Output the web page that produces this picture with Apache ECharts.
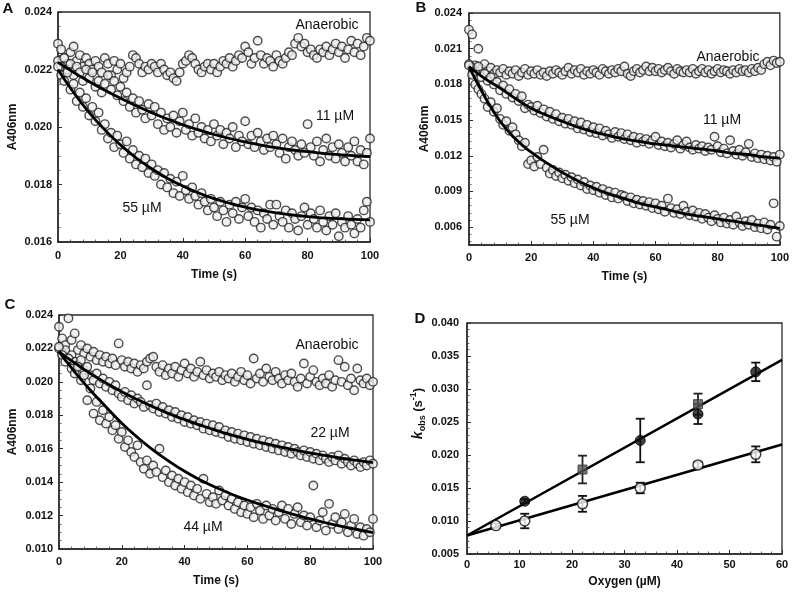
<!DOCTYPE html>
<html><head><meta charset="utf-8">
<script src="https://cdn.jsdelivr.net/npm/echarts@6/dist/echarts.min.js"></script>
<style>html,body{margin:0;padding:0;background:#fff}#c{width:792px;height:595px}</style>
</head><body><div id="c"></div>
<script>
// ---------- DATA ----------
const timeS = [0,1,2,3,4,5,6,7,8,9,10,11,12,13,14,15,16,17,18,19,20,21,22,23,24,25,26,27,28,29,30,31,32,33,34,35,36,37,38,39,40,41,42,43,44,45,46,47,48,49,50,51,52,53,54,55,56,57,58,59,60,61,62,63,64,65,66,67,68,69,70,71,72,73,74,75,76,77,78,79,80,81,82,83,84,85,86,87,88,89,90,91,92,93,94,95,96,97,98,99,100];
const fitTimeS = [0,5,10,15,20,25,30,35,40,45,50,55,60,65,70,75,80,85,90,95,100];

// Panel A
const aAnaerobic = [0.0229,0.0227,0.0224,0.0222,0.0226,0.0228,0.0223,0.0225,0.0221,0.0224,
0.0222,0.0220,0.0223,0.0221,0.0219,0.0224,0.0222,0.0218,0.0223,0.0220,
0.0222,0.0217,0.0219,0.0221,0.0225,0.0224,0.0222,0.0219,0.0221,0.0220,
0.0222,0.0221,0.0219,0.0222,0.0220,0.0218,0.0219,0.0217,0.0216,0.0219,
0.0222,0.0223,0.0225,0.0224,0.0222,0.0220,0.0219,0.0221,0.0222,0.0220,
0.0222,0.0219,0.0221,0.0223,0.0222,0.0224,0.0221,0.0223,0.0225,0.0224,
0.0228,0.0226,0.0222,0.0224,0.0230,0.0225,0.0222,0.0224,0.0223,0.0221,
0.0225,0.0223,0.0222,0.0224,0.0226,0.0225,0.0229,0.0231,0.0228,0.0229,
0.0226,0.0227,0.0225,0.0224,0.0227,0.0226,0.0228,0.0225,0.0227,0.0229,
0.0226,0.0228,0.0224,0.0227,0.0230,0.0226,0.0229,0.0225,0.0228,0.0231,0.0230];
const a11uM = [0.0223,0.0221,0.0224,0.0220,0.0222,0.0218,0.0221,0.0219,0.0216,0.0220,
0.0217,0.0219,0.0214,0.0216,0.0212,0.0215,0.0218,0.0213,0.0216,0.0211,
0.0214,0.0209,0.0212,0.0207,0.0210,0.0205,0.0209,0.0206,0.0203,0.0208,
0.0204,0.0207,0.0201,0.0205,0.0199,0.0203,0.0200,0.0204,0.0198,0.0202,
0.0205,0.0199,0.0201,0.0197,0.0203,0.0198,0.0200,0.0196,0.0199,0.0195,
0.0201,0.0197,0.0199,0.0194,0.0198,0.0196,0.0200,0.0193,0.0197,0.0195,
0.0202,0.0194,0.0197,0.0193,0.0198,0.0195,0.0192,0.0196,0.0193,0.0197,
0.0194,0.0191,0.0196,0.0189,0.0193,0.0195,0.0192,0.0190,0.0194,0.0191,
0.0201,0.0193,0.0190,0.0195,0.0188,0.0192,0.0196,0.0190,0.0193,0.0189,
0.0194,0.0191,0.0188,0.0193,0.0190,0.0195,0.0188,0.0192,0.0187,0.0191,0.0196];
const a55uM = [0.0221,0.0218,0.0216,0.0219,0.0213,0.0215,0.0209,0.0212,0.0207,0.0210,
0.0204,0.0207,0.0202,0.0205,0.0199,0.0201,0.0196,0.0198,0.0193,0.0197,
0.0194,0.0191,0.0195,0.0189,0.0192,0.0187,0.0190,0.0186,0.0189,0.0184,
0.0187,0.0183,0.0185,0.0180,0.0184,0.0179,0.0182,0.0177,0.0181,0.0176,
0.0183,0.0178,0.0175,0.0179,0.0176,0.0173,0.0177,0.0174,0.0171,0.0175,
0.0172,0.0169,0.0174,0.0171,0.0167,0.0173,0.0170,0.0174,0.0168,0.0172,
0.0175,0.0169,0.0172,0.0167,0.0171,0.0165,0.0170,0.0168,0.0173,0.0166,
0.0173,0.0169,0.0167,0.0171,0.0165,0.0170,0.0168,0.0164,0.0169,0.0172,
0.0166,0.0170,0.0168,0.0165,0.0171,0.0167,0.0164,0.0169,0.0166,0.0170,
0.0162,0.0167,0.0165,0.0169,0.0166,0.0163,0.0168,0.0165,0.0171,0.0174,0.0167];
const aFit11 = [0.02225,0.02190,0.02158,0.02128,0.02100,0.02074,0.02050,0.02028,0.02008,0.01990,0.01974,0.01960,0.01948,0.01937,0.01928,0.01920,0.01914,0.01908,0.01904,0.01900,0.01897];
const aFit55 = [0.02200,0.02120,0.02050,0.01990,0.01938,0.01893,0.01855,0.01822,0.01795,0.01771,0.01751,0.01735,0.01721,0.01710,0.01701,0.01694,0.01688,0.01684,0.01681,0.01679,0.01677];

// Panel B
const bAnaerobic = [0.0226,0.0222,0.0196,0.0210,0.0193,0.0197,0.0191,0.0194,0.0189,0.0192,
0.0190,0.0193,0.0188,0.0191,0.0189,0.0192,0.0187,0.0190,0.0193,0.0188,
0.0191,0.0189,0.0192,0.0188,0.0190,0.0187,0.0191,0.0189,0.0192,0.0190,
0.0188,0.0191,0.0194,0.0189,0.0192,0.0190,0.0193,0.0188,0.0191,0.0189,
0.0192,0.0190,0.0188,0.0193,0.0191,0.0189,0.0192,0.0190,0.0193,0.0191,
0.0195,0.0189,0.0187,0.0191,0.0193,0.0190,0.0192,0.0195,0.0191,0.0194,
0.0191,0.0193,0.0190,0.0192,0.0194,0.0191,0.0189,0.0193,0.0191,0.0190,
0.0192,0.0190,0.0193,0.0189,0.0191,0.0193,0.0190,0.0192,0.0189,0.0191,
0.0193,0.0190,0.0192,0.0191,0.0189,0.0192,0.0190,0.0193,0.0191,0.0192,
0.0190,0.0193,0.0191,0.0194,0.0192,0.0197,0.0199,0.0196,0.0200,0.0198,0.0199];
const b11uM = [0.0197,0.0194,0.0191,0.0195,0.0186,0.0189,0.0183,0.0186,0.0180,0.0182,
0.0175,0.0179,0.0172,0.0176,0.0169,0.0172,0.0166,0.0170,0.0160,0.0163,
0.0161,0.0158,0.0162,0.0156,0.0159,0.0153,0.0157,0.0151,0.0155,0.0149,
0.0152,0.0147,0.0151,0.0146,0.0149,0.0143,0.0148,0.0142,0.0146,0.0140,
0.0144,0.0139,0.0143,0.0137,0.0141,0.0138,0.0135,0.0140,0.0136,0.0139,
0.0134,0.0138,0.0133,0.0136,0.0131,0.0135,0.0132,0.0134,0.0130,0.0133,
0.0136,0.0129,0.0132,0.0128,0.0131,0.0127,0.0130,0.0133,0.0126,0.0129,
0.0132,0.0127,0.0125,0.0129,0.0126,0.0128,0.0124,0.0127,0.0125,0.0136,
0.0128,0.0123,0.0126,0.0122,0.0133,0.0124,0.0121,0.0125,0.0120,0.0123,
0.0130,0.0119,0.0122,0.0118,0.0121,0.0117,0.0120,0.0116,0.0119,0.0115,0.0121];
const b55uM = [0.0196,0.0188,0.0180,0.0176,0.0172,0.0168,0.0161,0.0165,0.0157,0.0160,
0.0151,0.0146,0.0149,0.0141,0.0144,0.0138,0.0133,0.0128,0.0131,0.0113,
0.0116,0.0111,0.0119,0.0113,0.0125,0.0110,0.0105,0.0108,0.0103,0.0106,
0.0101,0.0104,0.0099,0.0102,0.0097,0.0100,0.0095,0.0098,0.0092,0.0095,
0.0091,0.0094,0.0089,0.0092,0.0087,0.0090,0.0085,0.0089,0.0084,0.0087,
0.0086,0.0082,0.0085,0.0080,0.0083,0.0079,0.0082,0.0078,0.0081,0.0076,
0.0080,0.0075,0.0078,0.0073,0.0084,0.0076,0.0072,0.0075,0.0071,0.0078,
0.0073,0.0070,0.0074,0.0069,0.0072,0.0067,0.0071,0.0068,0.0065,0.0070,
0.0067,0.0064,0.0068,0.0063,0.0066,0.0062,0.0069,0.0064,0.0061,0.0065,
0.0062,0.0066,0.0060,0.0063,0.0059,0.0064,0.0058,0.0062,0.0080,0.0052,0.0061];
const bFit11 = [0.0195,0.0185,0.0177,0.0168,0.0160,0.0154,0.0149,0.0144,0.0140,0.0137,0.0134,0.0132,0.0130,0.01285,0.0127,0.01255,0.0124,0.0122,0.0121,0.0119,0.0118];
const bFit55 = [0.0195,0.0170,0.0149,0.0134,0.0123,0.0114,0.0106,0.0099,0.0093,0.0088,0.0084,0.0080,0.0077,0.0074,0.0071,0.0069,0.0067,0.0065,0.0063,0.0061,0.0059];
const bYTicks = [0.006,0.009,0.012,0.015,0.018,0.021,0.024];

// Panel C
const cAnaerobic = [0.0233,0.0226,0.0222,0.0238,0.0225,0.0229,0.0219,0.0222,0.0217,0.0220,
0.0215,0.0218,0.0213,0.0216,0.0212,0.0215,0.0211,0.0214,0.0210,0.0223,
0.0213,0.0209,0.0212,0.0208,0.0211,0.0206,0.0210,0.0208,0.0212,0.0214,
0.0215,0.0209,0.0206,0.0210,0.0204,0.0208,0.0205,0.0209,0.0203,0.0207,
0.0211,0.0205,0.0208,0.0203,0.0206,0.0212,0.0204,0.0207,0.0202,0.0205,
0.0203,0.0206,0.0201,0.0204,0.0202,0.0205,0.0200,0.0203,0.0206,0.0201,
0.0204,0.0199,0.0214,0.0202,0.0205,0.0200,0.0208,0.0203,0.0201,0.0206,
0.0202,0.0199,0.0204,0.0201,0.0205,0.0200,0.0197,0.0202,0.0211,0.0199,
0.0203,0.0207,0.0200,0.0198,0.0202,0.0199,0.0204,0.0197,0.0201,0.0213,
0.0200,0.0209,0.0198,0.0202,0.0195,0.0208,0.0201,0.0199,0.0202,0.0198,0.0200];
const c22uM = [0.0220,0.0217,0.0219,0.0214,0.0216,0.0212,0.0210,0.0213,0.0207,0.0209,
0.0204,0.0201,0.0205,0.0199,0.0202,0.0197,0.0200,0.0195,0.0198,0.0193,
0.0191,0.0194,0.0189,0.0192,0.0187,0.0190,0.0188,0.0185,0.0198,0.0186,
0.0184,0.0187,0.0182,0.0185,0.0181,0.0183,0.0179,0.0182,0.0178,0.0180,
0.0176,0.0179,0.0175,0.0177,0.0174,0.0176,0.0172,0.0175,0.0171,0.0174,
0.0170,0.0173,0.0169,0.0171,0.0167,0.0170,0.0166,0.0169,0.0165,0.0168,
0.0164,0.0167,0.0163,0.0166,0.0162,0.0165,0.0161,0.0164,0.0160,0.0163,
0.0159,0.0162,0.0158,0.0161,0.0157,0.0160,0.0158,0.0156,0.0159,0.0155,
0.0158,0.0154,0.0157,0.0153,0.0156,0.0154,0.0152,0.0155,0.0153,0.0156,
0.0151,0.0154,0.0152,0.0150,0.0153,0.0151,0.0149,0.0152,0.0150,0.0153,0.0151];
const c44uM = [0.0221,0.0216,0.0212,0.0214,0.0208,0.0205,0.0209,0.0201,0.0204,0.0189,
0.0196,0.0181,0.0188,0.0177,0.0183,0.0175,0.0179,0.0171,0.0174,0.0166,
0.0170,0.0161,0.0165,0.0158,0.0155,0.0162,0.0152,0.0148,0.0153,0.0145,
0.0150,0.0146,0.0160,0.0143,0.0147,0.0140,0.0144,0.0138,0.0142,0.0136,
0.0140,0.0134,0.0138,0.0132,0.0136,0.0130,0.0142,0.0133,0.0128,0.0131,
0.0127,0.0135,0.0129,0.0132,0.0126,0.0130,0.0124,0.0128,0.0122,0.0126,
0.0121,0.0125,0.0119,0.0127,0.0123,0.0118,0.0126,0.0120,0.0124,0.0117,
0.0122,0.0126,0.0118,0.0124,0.0115,0.0121,0.0125,0.0116,0.0120,0.0114,
0.0119,0.0138,0.0113,0.0117,0.0122,0.0111,0.0127,0.0115,0.0119,0.0112,
0.0116,0.0121,0.0110,0.0114,0.0118,0.0109,0.0113,0.0108,0.0112,0.0110,0.0118];
const cFit22 = [0.0218,0.02113,0.02050,0.01994,0.01941,0.01894,0.01850,0.01810,0.01774,0.01741,0.01710,0.01682,0.01656,0.01633,0.01613,0.01593,0.01575,0.01558,0.01543,0.01530,0.01517];
const cFit44 = [0.0218,0.0206,0.0195,0.0185,0.01752,0.01668,0.01592,0.01525,0.01465,0.01413,0.01368,0.01328,0.01293,0.01262,0.01233,0.01206,0.01180,0.01157,0.01136,0.01117,0.01098];

// Panel D
const dOxyFilled = [11, 33, 44, 55];
const dKFilled   = [0.0130, 0.0222, 0.0262, 0.0326];
const dErrFilled = [0.0003, 0.0033, 0.0015, 0.0014];
const dOxySquare = [22, 44];
const dKSquare   = [0.0178, 0.0277];
const dErrSquare = [0.0021, 0.0016];
const dOxyOpen = [5.5, 11, 22, 33, 44, 55];
const dKOpen   = [0.0093, 0.0100, 0.0126, 0.0150, 0.0185, 0.0201];
const dErrOpen = [0.0003, 0.0011, 0.0012, 0.0008, 0.0004, 0.0012];
const dFitOxy   = [0, 60];
const dFitUpper = [0.0078, 0.0344];
const dFitLower = [0.0078, 0.0216];

// ---------- CHART ----------
const FONT = "'Liberation Sans', Arial, sans-serif";
const pairs = (xs, ys) => xs.map((x, i) => [x, ys[i]]);
const triples = (xs, ys, es) => xs.map((x, i) => [x, ys[i], es[i]]);

const grids = [
  {left: 58, top: 12, width: 312, height: 230},
  {left: 469, top: 13, width: 312, height: 232},
  {left: 59, top: 315, width: 314, height: 234},
  {left: 467, top: 323, width: 315, height: 231}
].map(g => Object.assign(g, {show: true, borderColor: '#2b2b2b', borderWidth: 1.3, backgroundColor: 'transparent', containLabel: false}));

const axisLine = {show: true, onZero: false, lineStyle: {color: '#2b2b2b', width: 1.5}};
const tick = {show: true, inside: true, length: 4, lineStyle: {color: '#2b2b2b', width: 1}};
const minor = (n) => ({show: true, splitNumber: n, length: 2.5, lineStyle: {color: '#444', width: 0.8}});
const lbl = (m, dec) => ({show: true, margin: m, color: '#111', fontWeight: 'bold', fontSize: 11, fontFamily: FONT,
  formatter: v => (+v).toFixed(dec)});
const nameStyle = {fontWeight: 'bold', fontSize: 12, fontFamily: FONT, color: '#111'};

function xAx(gi, max, interval, mSplit, margin, gap, name) {
  return {type: 'value', gridIndex: gi, min: 0, max: max, interval: interval, name: name,
    nameLocation: 'middle', nameGap: gap, nameTextStyle: nameStyle,
    axisLine: axisLine, axisTick: tick, minorTick: minor(mSplit), splitLine: {show: false},
    axisLabel: lbl(margin, 0)};
}
function yAx(gi, min, max, interval, mSplit, margin, gap, name) {
  return {type: 'value', gridIndex: gi, min: min, max: max, interval: interval, name: name, position: 'left',
    nameLocation: 'middle', nameGap: gap, nameTextStyle: nameStyle,
    axisLine: axisLine, axisTick: tick, minorTick: minor(mSplit), splitLine: {show: false},
    axisLabel: lbl(margin, 3)};
}

const yB = {type: 'value', gridIndex: 1, min: 0.0045, max: 0.024, name: 'A406nm', position: 'left',
  nameLocation: 'middle', nameGap: 38, nameTextStyle: nameStyle,
  axisLine: axisLine,
  axisTick: Object.assign({}, tick, {customValues: bYTicks}),
  minorTick: {show: false}, splitLine: {show: false},
  axisLabel: Object.assign(lbl(7, 3), {customValues: bYTicks})};
// minor tick marks for panel B (every 0.0006 between the labelled ticks)
const bMinor = [];
for (let i = 0; i < bYTicks.length; i++) for (let k = -4; k <= -1; k++) {
  const v = bYTicks[i] + k * 0.0006; if (v > 0.0045) bMinor.push(+v.toFixed(4));
}
const yBminor = {type: 'value', gridIndex: 1, min: 0.0045, max: 0.024, position: 'left',
  axisLine: {show: false}, axisLabel: {show: false}, splitLine: {show: false},
  axisTick: {show: true, inside: true, length: 2.5, customValues: bMinor, lineStyle: {color: '#444', width: 0.8}}};

const yD = yAx(3, 0.005, 0.040, 0.005, 5, 8, 40, '{k|k}{sub|obs}{n| (s}{sup|-1}{n|)}');
yD.nameTextStyle = {fontWeight: 'bold', fontSize: 12, fontFamily: FONT, color: '#111', lineHeight: 18,
  padding: [0, 0, 0, 50],
  rich: {
    k: {fontStyle: 'italic', fontWeight: 'bold', fontSize: 14, fontFamily: FONT, color: '#111', verticalAlign: 'middle'},
    sub: {fontWeight: 'bold', fontSize: 9, fontFamily: FONT, color: '#111', verticalAlign: 'bottom', lineHeight: 18},
    sup: {fontWeight: 'bold', fontSize: 9, fontFamily: FONT, color: '#111', verticalAlign: 'top', lineHeight: 18},
    n: {fontWeight: 'bold', fontSize: 13, fontFamily: FONT, color: '#111', verticalAlign: 'middle'}
  }};

const scatterStyle = {color: '#eeeeee', borderColor: '#222', borderWidth: 1.4};
function sc(xi, yi, data) {
  return {type: 'scatter', xAxisIndex: xi, yAxisIndex: yi, data: data, symbol: 'circle', symbolSize: 8.5,
    itemStyle: scatterStyle, z: 2, silent: true, clip: false};
}
function fit(xi, yi, data) {
  return {type: 'line', xAxisIndex: xi, yAxisIndex: yi, data: data, smooth: true, showSymbol: false,
    lineStyle: {color: '#000', width: 2.8}, z: 5, silent: true};
}
function errBars(data, color) {
  return {type: 'custom', xAxisIndex: 3, yAxisIndex: 3, data: data, z: 6, silent: true,
    renderItem: function (params, api) {
      const x = api.value(0), y = api.value(1), e = api.value(2);
      const top = api.coord([x, y + e]), bot = api.coord([x, y - e]);
      const w = 4.5, st = {stroke: color, lineWidth: 1.8};
      return {type: 'group', children: [
        {type: 'line', shape: {x1: top[0], y1: top[1], x2: bot[0], y2: bot[1]}, style: st},
        {type: 'line', shape: {x1: top[0] - w, y1: top[1], x2: top[0] + w, y2: top[1]}, style: st},
        {type: 'line', shape: {x1: bot[0] - w, y1: bot[1], x2: bot[0] + w, y2: bot[1]}, style: st}
      ]};
    }};
}

function txt(s, x, y, size, weight) {
  return {type: 'text', x: x, y: y, z: 100, style: {text: s, fill: '#111', font: (weight || 'normal') + ' ' + size + 'px ' + FONT,
    align: 'center', verticalAlign: 'middle', textAlign: 'center', textVerticalAlign: 'middle'}};
}

const option = {
  animation: false,
  backgroundColor: '#fff',
  grid: grids,
  xAxis: [
    xAx(0, 100, 20, 5, 8, 27, 'Time (s)'),
    xAx(1, 100, 20, 5, 7, 26, 'Time (s)'),
    xAx(2, 100, 20, 5, 7, 26, 'Time (s)'),
    xAx(3, 60, 10, 5, 5, 22, 'Oxygen (\u00b5M)')
  ],
  yAxis: [
    yAx(0, 0.016, 0.024, 0.002, 4, 6, 39, 'A406nm'),
    yB,
    yAx(2, 0.010, 0.024, 0.002, 4, 6, 40, 'A406nm'),
    yD,
    yBminor
  ],
  series: [
    sc(0, 0, pairs(timeS, aAnaerobic)), sc(0, 0, pairs(timeS, a11uM)), sc(0, 0, pairs(timeS, a55uM)),
    fit(0, 0, pairs(fitTimeS, aFit11)), fit(0, 0, pairs(fitTimeS, aFit55)),
    sc(1, 1, pairs(timeS, bAnaerobic)), sc(1, 1, pairs(timeS, b11uM)), sc(1, 1, pairs(timeS, b55uM)),
    fit(1, 1, pairs(fitTimeS, bFit11)), fit(1, 1, pairs(fitTimeS, bFit55)),
    sc(2, 2, pairs(timeS, cAnaerobic)), sc(2, 2, pairs(timeS, c22uM)), sc(2, 2, pairs(timeS, c44uM)),
    fit(2, 2, pairs(fitTimeS, cFit22)), fit(2, 2, pairs(fitTimeS, cFit44)),
    {type: 'line', xAxisIndex: 3, yAxisIndex: 3, data: pairs(dFitOxy, dFitUpper), showSymbol: false,
      lineStyle: {color: '#000', width: 2.5}, z: 3, silent: true},
    {type: 'line', xAxisIndex: 3, yAxisIndex: 3, data: pairs(dFitOxy, dFitLower), showSymbol: false,
      lineStyle: {color: '#000', width: 2.5}, z: 3, silent: true},
    errBars(triples(dOxyFilled, dKFilled, dErrFilled), '#111'),
    errBars(triples(dOxySquare, dKSquare, dErrSquare), '#222'),
    errBars(triples(dOxyOpen, dKOpen, dErrOpen), '#111'),
    {type: 'scatter', xAxisIndex: 3, yAxisIndex: 3, data: pairs(dOxySquare, dKSquare), symbol: 'rect', symbolSize: 9,
      itemStyle: {color: '#555', borderColor: '#333', borderWidth: 1}, z: 7, silent: true},
    {type: 'scatter', xAxisIndex: 3, yAxisIndex: 3, data: pairs(dOxyFilled, dKFilled), symbol: 'circle', symbolSize: 10,
      itemStyle: {color: '#111', borderColor: '#000', borderWidth: 1}, z: 8, silent: true},
    {type: 'scatter', xAxisIndex: 3, yAxisIndex: 3, data: pairs(dOxyOpen, dKOpen), symbol: 'circle', symbolSize: 10,
      itemStyle: {color: '#fff', borderColor: '#111', borderWidth: 1.5}, z: 8, silent: true}
  ],
  graphic: [
    txt('A', 8, 9, 15, 'bold'), txt('B', 421, 8, 15, 'bold'), txt('C', 10, 305, 15, 'bold'), txt('D', 420, 319, 15, 'bold'),
    txt('Anaerobic', 327, 25, 14), txt('11 \u00b5M', 335, 116, 14), txt('55 \u00b5M', 142, 208, 14),
    txt('Anaerobic', 728, 57, 14), txt('11 \u00b5M', 722, 120, 14), txt('55 \u00b5M', 570, 220, 14),
    txt('Anaerobic', 327, 345, 14), txt('22 \u00b5M', 330, 433, 14), txt('44 \u00b5M', 203, 527, 14)
  ]
};

const chart = echarts.init(document.getElementById('c'), null, {renderer: 'canvas'});
chart.setOption(option);
</script>
</body></html>
